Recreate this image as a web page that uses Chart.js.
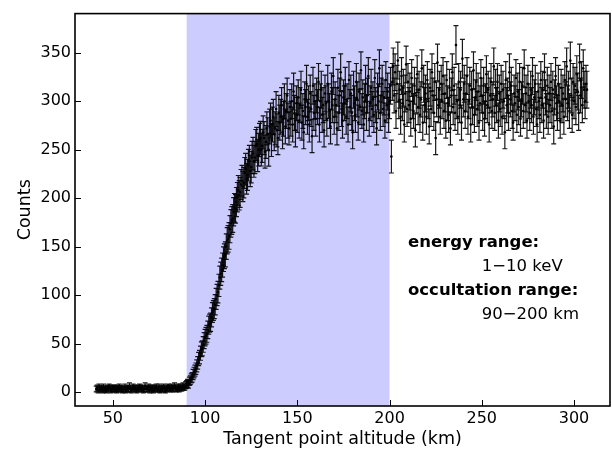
<!DOCTYPE html>
<html>
<head>
<meta charset="utf-8">
<script src="https://cdn.jsdelivr.net/npm/chart.js@4/dist/chart.umd.min.js"></script>
<style>html,body{margin:0;padding:0;background:#fff;}canvas{display:block;}</style>
</head>
<body>
<canvas id="c" width="612" height="451"></canvas>
<script>
const ALTITUDE_KM = [
41,41.5,42,42.5,43,43.5,44,44.5,45,45.5,
46,46.5,47,47.5,48,48.5,49,49.5,50,50.5,
51,51.5,52,52.5,53,53.5,54,54.5,55,55.5,
56,56.5,57,57.5,58,58.5,59,59.5,60,60.5,
61,61.5,62,62.5,63,63.5,64,64.5,65,65.5,
66,66.5,67,67.5,68,68.5,69,69.5,70,70.5,
71,71.5,72,72.5,73,73.5,74,74.5,75,75.5,
76,76.5,77,77.5,78,78.5,79,79.5,80,80.5,
81,81.5,82,82.5,83,83.5,84,84.5,85,85.5,
86,86.5,87,87.5,88,88.5,89,89.5,90,90.5,
91,91.5,92,92.5,93,93.5,94,94.5,95,95.5,
96,96.5,97,97.5,98,98.5,99,99.5,100,100.5,
101,101.5,102,102.5,103,103.5,104,104.5,105,105.5,
106,106.5,107,107.5,108,108.5,109,109.5,110,110.5,
111,111.5,112,112.5,113,113.5,114,114.5,115,115.5,
116,116.5,117,117.5,118,118.5,119,119.5,120,120.5,
121,121.5,122,122.5,123,123.5,124,124.5,125,125.5,
126,126.5,127,127.5,128,128.5,129,129.5,130,130.5,
131,131.5,132,132.5,133,133.5,134,134.5,135,135.5,
136,136.5,137,137.5,138,138.5,139,139.5,140,140.5,
141,141.5,142,142.5,143,143.5,144,144.5,145,145.5,
146,146.5,147,147.5,148,148.5,149,149.5,150,150.5,
151,151.5,152,152.5,153,153.5,154,154.5,155,155.5,
156,156.5,157,157.5,158,158.5,159,159.5,160,160.5,
161,161.5,162,162.5,163,163.5,164,164.5,165,165.5,
166,166.5,167,167.5,168,168.5,169,169.5,170,170.5,
171,171.5,172,172.5,173,173.5,174,174.5,175,175.5,
176,176.5,177,177.5,178,178.5,179,179.5,180,180.5,
181,181.5,182,182.5,183,183.5,184,184.5,185,185.5,
186,186.5,187,187.5,188,188.5,189,189.5,190,190.5,
191,191.5,192,192.5,193,193.5,194,194.5,195,195.5,
196,196.5,197,197.5,198,198.5,199,199.5,200,200.5,
201,201.5,202,202.5,203,203.5,204,204.5,205,205.5,
206,206.5,207,207.5,208,208.5,209,209.5,210,210.5,
211,211.5,212,212.5,213,213.5,214,214.5,215,215.5,
216,216.5,217,217.5,218,218.5,219,219.5,220,220.5,
221,221.5,222,222.5,223,223.5,224,224.5,225,225.5,
226,226.5,227,227.5,228,228.5,229,229.5,230,230.5,
231,231.5,232,232.5,233,233.5,234,234.5,235,235.5,
236,236.5,237,237.5,238,238.5,239,239.5,240,240.5,
241,241.5,242,242.5,243,243.5,244,244.5,245,245.5,
246,246.5,247,247.5,248,248.5,249,249.5,250,250.5,
251,251.5,252,252.5,253,253.5,254,254.5,255,255.5,
256,256.5,257,257.5,258,258.5,259,259.5,260,260.5,
261,261.5,262,262.5,263,263.5,264,264.5,265,265.5,
266,266.5,267,267.5,268,268.5,269,269.5,270,270.5,
271,271.5,272,272.5,273,273.5,274,274.5,275,275.5,
276,276.5,277,277.5,278,278.5,279,279.5,280,280.5,
281,281.5,282,282.5,283,283.5,284,284.5,285,285.5,
286,286.5,287,287.5,288,288.5,289,289.5,290,290.5,
291,291.5,292,292.5,293,293.5,294,294.5,295,295.5,
296,296.5,297,297.5,298,298.5,299,299.5,300,300.5,
301,301.5,302,302.5,303,303.5,304,304.5,305,305.5,
306,306.5,307
];
const COUNTS = [
3,4,2,5,3,3,4,2,5,3,
3,2,4,3,5,4,2,3,4,3,
4,3,2,4,3,5,3,4,2,3,
3,5,2,3,4,3,6,3,2,4,
5,3,4,3,2,4,3,5,4,3,
4,2,3,6,3,4,3,5,2,4,
3,4,2,3,4,5,3,3,5,2,
3,4,3,5,3,2,4,3,5,4,
4,3,5,3,4,6,4,3,4,5,
3,5,4,4,6,5,5,7,8,9,
8,11,12,14,15,18,20,22,24,27,
30,34,36,40,44,45,49,53,56,58,
60,64,69,71,72,77,82,84,86,90,
96,100,103,110,118,122,126,131,137,140,
142,150,156,158,161,168,174,177,179,186,
190,189,196,201,208,203,206,214,218,212,
216,226,230,220,224,234,238,228,232,242,
246,238,242,254,256,244,250,260,262,250,
254,268,262,248,258,272,266,250,274,280,
260,276,284,266,272,292,270,262,288,278,
284,296,268,282,300,274,290,306,280,272,
294,282,300,276,310,288,270,298,286,304,
280,296,312,278,290,268,302,294,318,284,
298,276,308,292,264,316,288,300,282,306,
294,320,276,300,312,286,296,270,308,298,
282,318,300,290,274,310,296,326,284,302,
296,272,314,288,306,330,292,280,304,298,
316,284,300,276,322,294,308,288,268,312,
298,286,320,302,278,310,294,332,290,304,
276,300,318,288,306,326,282,298,314,292,
302,286,324,296,272,310,300,334,288,306,
318,292,304,280,322,296,310,286,300,316,
243,320,336,306,330,290,318,342,300,312,
284,326,298,314,276,308,338,292,320,296,
310,282,324,300,290,316,270,306,328,294,
312,286,302,334,278,318,296,308,284,322,
300,274,314,292,330,306,288,320,262,302,
340,296,312,284,318,300,326,290,308,280,
322,298,286,314,272,306,330,294,316,288,
358,300,284,320,296,312,278,344,302,318,
290,308,326,284,300,316,276,312,294,332,
286,304,320,292,310,278,298,324,306,288,
316,282,300,328,296,312,276,306,320,290,
302,336,288,314,296,320,280,308,292,318,
284,312,300,268,322,296,306,288,330,302,
316,290,278,308,298,324,286,310,294,320,
282,302,316,290,334,296,308,280,318,300,
288,312,296,326,284,304,318,292,276,310,
300,286,322,296,312,280,330,304,290,316,
284,308,296,320,290,312,274,304,326,298,
288,318,300,280,314,296,308,284,322,302,
336,298,312,290,342,306,286,320,300,316,
294,328,310,288,340,306,322,296,334,312,
300,318,312
];
const COUNT_ERRORS = [
3,3,3,3.2,3,3,3,3,3.2,3,
3,3,3,3,3.2,3,3,3,3,3,
3,3,3,3,3,3.2,3,3,3,3,
3,3.2,3,3,3,3,3.4,3,3,3,
3.2,3,3,3,3,3,3,3.2,3,3,
3,3,3,3.4,3,3,3,3.2,3,3,
3,3,3,3,3,3.2,3,3,3.2,3,
3,3,3,3.2,3,3,3,3,3.2,3,
3,3,3.2,3,3,3.4,3,3,3,3.2,
3,3.2,3,3,3.4,3.2,3.2,3.6,3.8,4,
4,4.3,4.5,4.7,4.9,5.2,5.5,5.7,5.9,6.2,
6.5,6.8,7,7.3,7.6,7.7,8,8.3,8.5,8.6,
8.7,9,9.3,9.4,9.5,9.8,10.1,10.2,10.3,10.5,
10.8,11,11.1,11.5,11.9,12,12.2,12.4,12.7,12.8,
12.9,13.2,13.5,13.6,13.7,14,14.2,14.3,14.4,14.6,
14.8,14.7,15,15.2,15.4,15.2,15.4,15.6,15.8,15.6,
15.7,16,16.2,15.8,16,16.3,16.4,16.1,16.2,16.6,
16.7,16.4,16.6,16.9,17,16.6,16.8,17.1,17.2,16.8,
17,17,17,17,17,17,17,17,18,18,
17,18,18,17,17,18,17,17,18,18,
18,18,17,18,18,18,18,18,18,17,
18,18,18,18,19,18,17,18,18,18,
18,18,19,18,18,17,18,18,19,18,
18,18,19,18,17,19,18,18,18,18,
18,19,18,18,19,18,18,17,19,18,
18,19,18,18,18,19,18,19,18,18,
18,17,19,18,18,19,18,18,18,18,
19,18,18,18,19,18,19,18,17,19,
18,18,19,18,18,19,18,19,18,18,
18,18,19,18,18,19,18,18,19,18,
18,18,19,18,17,19,18,19,18,18,
19,18,18,18,19,18,19,18,18,19,
17,19,19,18,19,18,19,19,18,19,
18,19,18,19,18,19,19,18,19,18,
19,18,19,18,18,19,17,18,19,18,
19,18,18,19,18,19,18,19,18,19,
18,18,19,18,19,18,18,19,17,18,
19,18,19,18,19,18,19,18,19,18,
19,18,18,19,17,18,19,18,19,18,
20,18,18,19,18,19,18,20,18,19,
18,19,19,18,18,19,18,19,18,19,
18,18,19,18,19,18,18,19,18,18,
19,18,18,19,18,19,18,18,19,18,
18,19,18,19,18,19,18,19,18,19,
18,19,18,17,19,18,18,18,19,18,
19,18,18,19,18,19,18,19,18,19,
18,18,19,18,19,18,19,18,19,18,
18,19,18,19,18,18,19,18,18,19,
18,18,19,18,19,18,19,18,18,19,
18,19,18,19,18,19,18,18,19,18,
18,19,18,18,19,18,19,18,19,18,
19,18,19,18,19,18,18,19,18,19,
18,19,19,18,19,18,19,18,19,19,
18,19,19
];
const X_TICKS = [50, 100, 150, 200, 250, 300];
const Y_TICKS = [0, 50, 100, 150, 200, 250, 300, 350];
const OCCULTATION_SPAN_KM = [90, 200];
const NOTE_TEXTS = ['energy range:', '1\u221210 keV', 'occultation range:', '90\u2212200 km'];
const NOTE_X_KM = [210, 250, 210, 250];
const NOTE_Y_COUNTS = [150, 125, 100, 75];
const NOTE_BOLD = [true, false, true, false];

Chart.defaults.font.family = "'DejaVu Sans', sans-serif";
Chart.defaults.color = '#000';

const framePlugin = {
  id: 'frame',
  beforeDatasetsDraw(chart) {
    const {ctx, chartArea: a, scales: {x, y}} = chart;
    ctx.save();
    const x0 = x.getPixelForValue(OCCULTATION_SPAN_KM[0]);
    const x1 = x.getPixelForValue(OCCULTATION_SPAN_KM[1]);
    ctx.fillStyle = 'rgba(0,0,255,0.2)';
    ctx.fillRect(x0, a.top, x1 - x0, a.bottom - a.top);
    ctx.strokeStyle = 'rgba(0,0,0,0.9)';
    ctx.lineWidth = 1.2;
    for (let i = 0; i < ALTITUDE_KM.length; i++) {
      const px = x.getPixelForValue(ALTITUDE_KM[i]);
      const lo = y.getPixelForValue(COUNTS[i] - COUNT_ERRORS[i]);
      const hi = y.getPixelForValue(COUNTS[i] + COUNT_ERRORS[i]);
      ctx.beginPath();
      ctx.moveTo(px, lo); ctx.lineTo(px, hi);
      ctx.moveTo(px - 2.5, lo); ctx.lineTo(px + 2.5, lo);
      ctx.moveTo(px - 2.5, hi); ctx.lineTo(px + 2.5, hi);
      ctx.stroke();
    }
    ctx.restore();
  },
  afterDraw(chart) {
    const {ctx, chartArea: a, scales: {x, y}} = chart;
    ctx.save();
    ctx.strokeStyle = '#000';
    ctx.lineWidth = 1;
    ctx.beginPath();
    X_TICKS.forEach(v => { const p = Math.round(x.getPixelForValue(v)) + 0.5; ctx.moveTo(p, a.bottom); ctx.lineTo(p, a.bottom - 6); });
    Y_TICKS.forEach(v => { const p = Math.round(y.getPixelForValue(v)) + 0.5; ctx.moveTo(a.left, p); ctx.lineTo(a.left + 6, p); });
    ctx.stroke();
    ctx.lineWidth = 1.6;
    ctx.strokeRect(a.left, a.top, a.right - a.left, a.bottom - a.top);
    ctx.fillStyle = '#000';
    ctx.textBaseline = 'alphabetic';
    ctx.textAlign = 'left';
    for (let i = 0; i < NOTE_TEXTS.length; i++) {
      ctx.font = (NOTE_BOLD[i] ? 'bold ' : '') + '16.5px "DejaVu Sans", sans-serif';
      ctx.fillText(NOTE_TEXTS[i], x.getPixelForValue(NOTE_X_KM[i]), y.getPixelForValue(NOTE_Y_COUNTS[i]));
    }
    ctx.restore();
  }
};

new Chart(document.getElementById('c'), {
  type: 'scatter',
  data: {
    datasets: [{
      data: ALTITUDE_KM.map((a, i) => ({x: a, y: COUNTS[i]})),
      pointRadius: 1.3,
      pointHoverRadius: 0,
      pointBackgroundColor: '#000',
      pointBorderWidth: 0,
      showLine: false
    }]
  },
  options: {
    responsive: false,
    animation: false,
    devicePixelRatio: 1,
    events: [],
    layout: {padding: {top: 7, right: 2, left: 0, bottom: 0}},
    plugins: {legend: {display: false}, tooltip: {enabled: false}},
    scales: {
      x: {
        type: 'linear', min: 29.5, max: 319.5,
        afterBuildTicks: s => { s.ticks = X_TICKS.map(v => ({value: v})); },
        afterFit: s => { s.height = 45; },
        grid: {display: false, drawTicks: false},
        border: {display: false},
        ticks: {padding: 3.5, font: {size: 16}, color: '#000', maxRotation: 0, autoSkip: false},
        title: {display: true, text: 'Tangent point altitude (km)', font: {size: 17.5}, color: '#000', padding: {top: 0, bottom: 1.25}}
      },
      y: {
        type: 'linear', min: -14.5, max: 390.5,
        afterBuildTicks: s => { s.ticks = Y_TICKS.map(v => ({value: v})); },
        afterFit: s => { s.width = 75; },
        grid: {display: false, drawTicks: false},
        border: {display: false},
        ticks: {padding: 4, font: {size: 16}, color: '#000', autoSkip: false},
        title: {display: true, text: 'Counts', font: {size: 17.5}, color: '#000', padding: {top: 15, bottom: 0}}
      }
    }
  },
  plugins: [framePlugin]
});
</script>
</body>
</html>
